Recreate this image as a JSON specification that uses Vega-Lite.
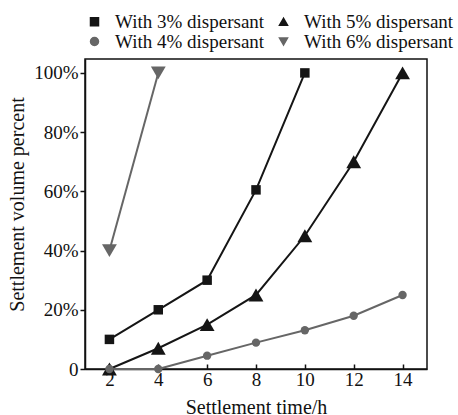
{
  "$schema": "https://vega.github.io/schema/vega-lite/v6.json",
  "width": 342,
  "height": 310,
  "autosize": {"type": "none"},
  "padding": {"left": 85, "top": 59, "right": 31, "bottom": 46},
  "background": "white",
  "config": {
    "font": "Liberation Serif",
    "view": {"stroke": "#111", "strokeWidth": 1.5},
    "axis": {"grid": false, "domainColor": "#111", "domainWidth": 1.5, "tickColor": "#111", "tickWidth": 1.5, "labelColor": "#111", "titleColor": "#111", "labelFont": "Liberation Serif", "titleFont": "Liberation Serif", "labelFontSize": 19, "titleFontSize": 20, "titleFontWeight": "normal"}
  },
  "data": {"values": [
    {"t": 2, "v": 10, "s": "With 3% dispersant"},
    {"t": 4, "v": 20, "s": "With 3% dispersant"},
    {"t": 6, "v": 30, "s": "With 3% dispersant"},
    {"t": 8, "v": 60.5, "s": "With 3% dispersant"},
    {"t": 10, "v": 100, "s": "With 3% dispersant"},
    {"t": 2, "v": 0, "s": "With 5% dispersant"},
    {"t": 4, "v": 7, "s": "With 5% dispersant"},
    {"t": 6, "v": 15, "s": "With 5% dispersant"},
    {"t": 8, "v": 25, "s": "With 5% dispersant"},
    {"t": 10, "v": 45, "s": "With 5% dispersant"},
    {"t": 12, "v": 70, "s": "With 5% dispersant"},
    {"t": 14, "v": 100, "s": "With 5% dispersant"},
    {"t": 2, "v": 0, "s": "With 4% dispersant"},
    {"t": 4, "v": 0, "s": "With 4% dispersant"},
    {"t": 6, "v": 4.5, "s": "With 4% dispersant"},
    {"t": 8, "v": 8.9, "s": "With 4% dispersant"},
    {"t": 10, "v": 13.1, "s": "With 4% dispersant"},
    {"t": 12, "v": 18, "s": "With 4% dispersant"},
    {"t": 14, "v": 25, "s": "With 4% dispersant"},
    {"t": 2, "v": 40, "s": "With 6% dispersant"},
    {"t": 4, "v": 100, "s": "With 6% dispersant"}
  ]},
  "encoding": {
    "x": {"field": "t", "type": "quantitative", "title": "Settlement time/h",
      "scale": {"domain": [1, 15], "nice": false, "zero": false},
      "axis": {"values": [2, 4, 6, 8, 10, 12, 14], "tickSize": -5, "labelPadding": 6, "titleY": 28, "labelFlush": false}},
    "y": {"field": "v", "type": "quantitative", "title": "Settlement volume percent",
      "scale": {"domain": [0, 104.7], "nice": false},
      "axis": {"values": [0, 20, 40, 60, 80, 100], "tickSize": 5, "labelPadding": 2, "labelExpr": "datum.value == 0 ? '0' : datum.value + '%'", "titleX": -58, "titleY": 145, "titleAlign": "center", "titleAnchor": "middle", "labelFlush": false}},
    "color": {"field": "s", "type": "nominal",
      "scale": {"domain": ["With 3% dispersant", "With 5% dispersant", "With 4% dispersant", "With 6% dispersant"], "range": ["#151515", "#151515", "#666666", "#666666"]},
      "legend": {"title": null, "orient": "none", "legendX": 0, "legendY": -47, "direction": "horizontal", "columns": 2, "columnPadding": 9, "rowPadding": 0,
        "labelFont": "Liberation Serif", "labelFontSize": 19, "labelColor": "#111", "symbolSize": 64, "labelOffset": 11,
        "encode": {"symbols": {"update": {
          "shape": {"condition": [
            {"test": "datum.value == 'With 3% dispersant'", "value": "M-1.5,0H1.5M-0.4,-0.4H0.4V0.4H-0.4Z"},
            {"test": "datum.value == 'With 5% dispersant'", "value": "M-1.5,0H1.5M0,-0.5L0.55,0.4H-0.55Z"},
            {"test": "datum.value == 'With 4% dispersant'", "value": "M-1.5,0H1.5M0.4,0A0.4,0.4 0 1,1 -0.4,0A0.4,0.4 0 1,1 0.4,0Z"}],
            "value": "M-1.5,0H1.5M0,0.5L0.55,-0.4H-0.55Z"},
          "fill": {"condition": {"test": "datum.value == 'With 4% dispersant' || datum.value == 'With 6% dispersant'", "value": "#666666"}, "value": "#151515"},
          "stroke": {"condition": {"test": "datum.value == 'With 4% dispersant' || datum.value == 'With 6% dispersant'", "value": "#666666"}, "value": "#151515"},
          "strokeWidth": {"value": 1.5},
          "opacity": {"value": 1}
        }}}}}
  },
  "layer": [
    {"mark": {"type": "line", "strokeWidth": 2}},
    {"mark": {"type": "point", "filled": true, "opacity": 1},
      "encoding": {
        "shape": {"field": "s", "type": "nominal",
          "scale": {"domain": ["With 3% dispersant", "With 5% dispersant", "With 4% dispersant", "With 6% dispersant"], "range": ["square", "triangle-up", "circle", "triangle-down"]}},
        "size": {"condition": [
          {"test": "datum.s == 'With 5% dispersant' || datum.s == 'With 6% dispersant'", "value": 220},
          {"test": "datum.s == 'With 3% dispersant'", "value": 90}], "value": 70}
      }}
  ]
}
